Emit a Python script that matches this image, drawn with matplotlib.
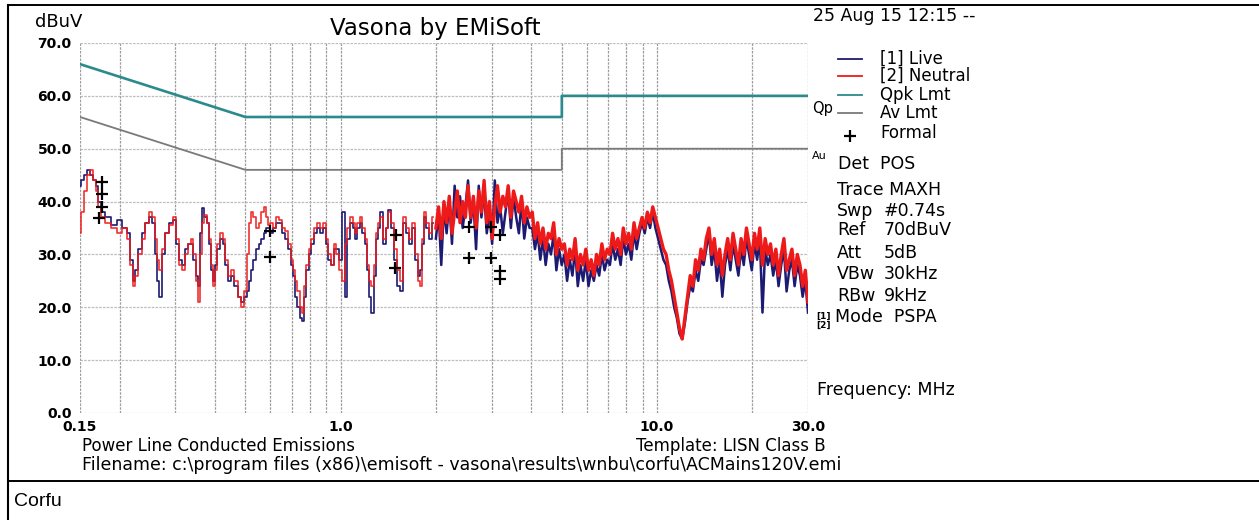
"""
Vasona by EMiSoft - conducted emissions scan (Corfu, AC mains 120 V)
"""
import matplotlib

matplotlib.use("Agg")
import matplotlib.pyplot as plt
import numpy as np
from matplotlib.lines import Line2D
from matplotlib.ticker import NullFormatter

W, H = 1259, 520

# limit lines (MHz, dBuV)
qpk_freq = [0.15, 0.5, 5.0, 5.0, 30.0]
qpk_level = [66.0, 56.0, 56.0, 60.0, 60.0]
av_freq = [0.15, 0.5, 5.0, 5.0, 30.0]
av_level = [56.0, 46.0, 46.0, 50.0, 50.0]

# low band sweep 0.15 - 2 MHz
lf_freq = [0.150, 0.153, 0.156, 0.160, 0.163, 0.166, 0.170, 0.173, 0.176, 0.185,
           0.192, 0.200, 0.208, 0.213, 0.218, 0.222, 0.226, 0.232, 0.238, 0.245,
           0.252, 0.256, 0.260, 0.264, 0.268, 0.275, 0.283, 0.292, 0.300, 0.305,
           0.312, 0.318, 0.325, 0.332, 0.340, 0.345, 0.352, 0.358, 0.362, 0.368,
           0.374, 0.380, 0.386, 0.392, 0.398, 0.404, 0.412, 0.420, 0.428, 0.436,
           0.446, 0.456, 0.466, 0.478, 0.490, 0.500, 0.510, 0.518, 0.525, 0.535,
           0.545, 0.555, 0.565, 0.576, 0.585, 0.595, 0.605, 0.615, 0.630, 0.645,
           0.660, 0.675, 0.690, 0.700, 0.710, 0.720, 0.735, 0.750, 0.760, 0.770,
           0.785, 0.800, 0.815, 0.830, 0.850, 0.870, 0.890, 0.905, 0.920, 0.940,
           0.960, 0.980, 1.000, 1.020, 1.040, 1.060, 1.080, 1.100, 1.120, 1.140,
           1.160, 1.180, 1.200, 1.220, 1.240, 1.260, 1.280, 1.300, 1.320, 1.350,
           1.380, 1.400, 1.430, 1.460, 1.490, 1.520, 1.550, 1.590, 1.620, 1.660,
           1.700, 1.740, 1.770, 1.790, 1.820, 1.840, 1.880, 1.920, 1.960]
neutral_lf = [34, 38, 42, 45, 46, 44, 42, 39, 37, 36,
              35, 34, 35, 33, 28, 24, 26, 30, 33, 36,
              38, 37, 33, 29, 27, 31, 34, 35.5, 37, 33,
              28, 27, 30, 32, 33, 30, 25, 21, 30, 36,
              37.5, 36, 33, 28, 24, 27, 32, 34, 33, 29,
              26, 27, 25, 22, 20, 23, 30, 36, 38, 37,
              35, 36, 38, 39, 37, 35.5, 36, 35, 37, 36.5,
              35, 34.5, 32, 29, 27, 25, 23, 20, 19, 24,
              28, 31, 33, 35, 36, 35, 36, 33, 30, 28,
              32, 30, 27, 25, 32, 35, 37, 36, 34, 36,
              37, 35, 33, 28, 25, 24, 28, 34, 36, 37,
              33, 35, 38, 36, 31, 27, 25, 37, 35, 33,
              36, 30, 25, 24, 33, 38, 36, 34, 37]
live_lf = [43, 44, 45, 46, 45, 44, 43, 40, 38, 37,
           35.5, 36.5, 35, 34, 29, 25, 27, 31, 34, 36,
           37, 36, 30, 25, 22, 30, 34, 36, 36.5, 32,
           29, 28, 31, 32, 32, 29, 26, 24, 34, 38.8,
           37, 36, 32, 27, 25, 28, 31, 33, 32, 28,
           25, 26, 24, 22, 21, 22, 23, 25, 27, 29,
           31, 32, 33, 34, 35, 35, 34, 35, 36, 36,
           34, 33, 31, 28, 26, 22, 20, 18, 17.5, 22,
           27, 30, 32, 34, 35, 34, 35, 32, 29, 28,
           31, 31, 29, 38, 22, 33, 36, 35, 33, 35,
           36, 34, 32, 27, 22, 19, 26, 33, 35, 38,
           32, 35, 38.5, 35, 29, 24, 23, 36, 34, 32,
           35, 29, 26, 27, 32, 37, 35, 33, 36]

# high band sweep 2 - 30 MHz
hf_start, hf_stop = 2.0, 30.0
neutral_hf = [35, 39, 33, 40, 36, 41, 34, 38, 42, 36, 40, 37,
              43, 37, 41, 35, 42, 38, 44, 36, 40, 33, 39, 43, 38, 41,
              39, 43, 37, 42, 40, 38, 41, 36, 39, 37,
              38, 33, 36, 32, 35, 31, 34, 33, 36, 30, 33, 31,
              32, 28, 31, 29, 33, 27, 30, 28, 31, 27, 29, 26, 30, 28, 32, 29, 31,
              30, 34, 31, 33, 30, 35, 32, 34, 31, 36, 33, 35, 37,
              35, 38, 36, 39, 37, 35,
              33, 31, 30, 27, 25, 22, 19, 16, 14,
              18, 22, 26, 24, 29, 27, 31, 29, 33, 35,
              30, 33, 28, 31, 26,
              30, 33, 29, 34, 31, 28, 33, 30, 35, 32, 29, 34,
              31, 35, 28, 33, 30,
              32, 28, 31, 26, 30, 33, 27, 29,
              31, 26, 30, 28, 24, 27, 21]
live_hf = [33, 38, 28, 39, 34, 40, 32, 43, 37, 41, 35, 39,
           44, 36, 40, 31, 43, 37, 42, 34, 38, 32, 44, 36, 39, 34,
           38, 42, 35, 41, 37, 34, 40, 33, 37, 35,
           35, 31, 34, 29, 33, 28, 32, 30, 34, 27, 31, 28,
           30, 25, 29, 26, 31, 24, 28, 25, 29, 24, 27, 25, 28, 26, 30, 27, 29,
           28, 32, 29, 31, 28, 33, 30, 32, 29, 34, 31, 34, 36,
           34, 37, 35, 38, 35, 33,
           31, 29, 28, 25, 23, 20, 18, 15, 14,
           17, 21, 24, 23, 27, 25, 29, 28, 31, 34,
           28, 31, 25, 29, 22,
           28, 31, 27, 32, 29, 26, 31, 28, 33, 30, 27, 32,
           29, 33, 19, 31, 28,
           30, 26, 29, 24, 28, 31, 23, 27,
           29, 24, 28, 26, 22, 25, 19]

# formal (final) measurements
formal_freq = [0.176, 0.176, 0.176, 0.172, 0.60, 0.60, 1.50, 1.49,
               2.54, 2.54, 2.98, 2.98, 3.18, 3.18, 3.18]
formal_level = [43.7, 41.5, 39.0, 36.9, 34.5, 29.5, 33.7, 27.4,
                35.2, 29.3, 35.2, 29.3, 33.7, 26.8, 25.4]

y_ticks = [0, 10, 20, 30, 40, 50, 60, 70]
y_tick_labels = ["0.0", "10.0", "20.0", "30.0", "40.0", "50.0", "60.0", "70.0"]
x_ticks = [0.15, 1.0, 10.0, 30.0]
x_tick_labels = ["0.15", "1.0", "10.0", "30.0"]
x_grid = [0.15, 0.2, 0.3, 0.4, 0.5, 0.6, 0.7, 0.8, 0.9, 1.0,
          2, 3, 4, 5, 6, 7, 8, 9, 10, 20, 30]

LIVE = "#1c1a72"
NEUTRAL = "#ee1a1a"
QPK = "#2b8a8c"
AV = "#7a7a7a"

plt.rcParams["font.family"] = "DejaVu Sans"


def fx(x):
    return x / W


def fy(y):
    return 1 - y / H


def main():
    fig = plt.figure(figsize=(W / 100, H / 100), dpi=100)
    ax = fig.add_axes([fx(80), fy(413), 728 / W, 370 / H])
    ax.set_xscale("log")
    ax.set_xlim(0.15, 30)
    ax.set_ylim(0, 70)

    ax.set_xticks(x_ticks, x_tick_labels)
    ax.set_xticks(x_grid, minor=True)
    ax.xaxis.set_minor_formatter(NullFormatter())
    ax.set_yticks(y_ticks, y_tick_labels)
    ax.tick_params(which="both", length=0)
    ax.tick_params(axis="x", pad=5, labelsize=10)
    ax.tick_params(axis="y", pad=6, labelsize=10)
    for lab in ax.get_xticklabels() + ax.get_yticklabels():
        lab.set_fontweight("bold")
    ax.grid(axis="x", which="both", color="#9c9c9c", lw=0.9, ls=(0, (2, 1)))
    ax.grid(axis="y", which="major", color="#bdbdbd", lw=0.9, ls=(0, (2, 1)))
    for s in ax.spines.values():
        s.set_visible(False)

    ax.plot(qpk_freq, qpk_level, color=QPK, lw=1.9)
    ax.plot(av_freq, av_level, color=AV, lw=1.3)

    # low band drawn as analyser steps, high band as dense trace
    hf_freq = np.geomspace(hf_start, hf_stop, len(neutral_hf))
    ax.plot(lf_freq, live_lf, color=LIVE, lw=1.2, drawstyle="steps-mid")
    ax.plot(hf_freq, live_hf, color=LIVE, lw=1.8)
    ax.plot(lf_freq, neutral_lf, color=NEUTRAL, lw=1.2, alpha=0.9, drawstyle="steps-mid")
    ax.plot(hf_freq, neutral_hf, color=NEUTRAL, lw=2.4)
    ax.plot(formal_freq, formal_level, "+", color="black", ms=9, mew=1.6)

    # header
    fig.text(fx(35), fy(22), "dBuV", fontsize=13, va="center")
    fig.text(fx(435), fy(28), "Vasona by EMiSoft", fontsize=16.5, ha="center", va="center")
    fig.text(fx(813), fy(16), "25 Aug 15 12:15 --", fontsize=12.5, va="center")

    # legend
    legend_rows = [(59, LIVE, "[1] Live"), (76, NEUTRAL, "[2] Neutral"),
                   (95, QPK, "Qpk Lmt"), (113, AV, "Av Lmt")]
    for y, c, txt in legend_rows:
        fig.add_artist(Line2D([fx(838), fx(862)], [fy(y), fy(y)], color=c, lw=1.3))
        fig.text(fx(880), fy(y), txt, fontsize=12, va="center")
    fig.add_artist(Line2D([fx(850)], [fy(136)], marker="+", color="black", ms=9, mew=1.6))
    fig.text(fx(880), fy(133), "Formal", fontsize=12, va="center")
    fig.text(fx(812), fy(108), "Qp", fontsize=10.5, va="center")
    fig.text(fx(812), fy(156), "Au", fontsize=8, va="center")

    # instrument settings
    fig.text(fx(838), fy(164), "Det  POS", fontsize=12.5, va="center")
    fig.text(fx(837), fy(190), "Trace MAXH", fontsize=12.5, va="center")
    settings = [(211, "Swp", "#0.74s"), (230, "Ref", "70dBuV"), (253, "Att", "5dB"),
                (274, "VBw", "30kHz"), (296, "RBw", "9kHz")]
    for y, k, v in settings:
        fig.text(fx(837), fy(y), k, fontsize=12.5, va="center")
        fig.text(fx(884), fy(y), v, fontsize=12.5, va="center")
    fig.text(fx(835), fy(317), "Mode  PSPA", fontsize=12.5, va="center")
    fig.text(fx(816), fy(321), "[1]\n[2]", fontsize=6.5, va="center", linespacing=0.9,
             fontweight="bold")
    fig.text(fx(817), fy(390), "Frequency: MHz", fontsize=12.5, va="center")

    # footer
    fig.text(fx(82), fy(446), "Power Line Conducted Emissions", fontsize=12, va="center")
    fig.text(fx(636), fy(446), "Template: LISN Class B", fontsize=12, va="center")
    fig.text(fx(82), fy(465),
             "Filename: c:\\program files (x86)\\emisoft - vasona\\results\\wnbu\\corfu\\ACMains120V.emi",
             fontsize=12.5, va="center")

    # page table borders
    fig.add_artist(Line2D([fx(8), fx(8)], [fy(5), fy(520)], color="black", lw=1.5))
    fig.add_artist(Line2D([fx(8), fx(W)], [fy(5), fy(5)], color="black", lw=1.4))
    fig.add_artist(Line2D([fx(8), fx(W)], [fy(481), fy(481)], color="black", lw=1.4))
    fig.text(fx(14), fy(502), "Corfu", fontsize=14, va="center", family="Liberation Sans")

    fig.savefig("out.png", dpi=100)


if __name__ == "__main__":
    main()
